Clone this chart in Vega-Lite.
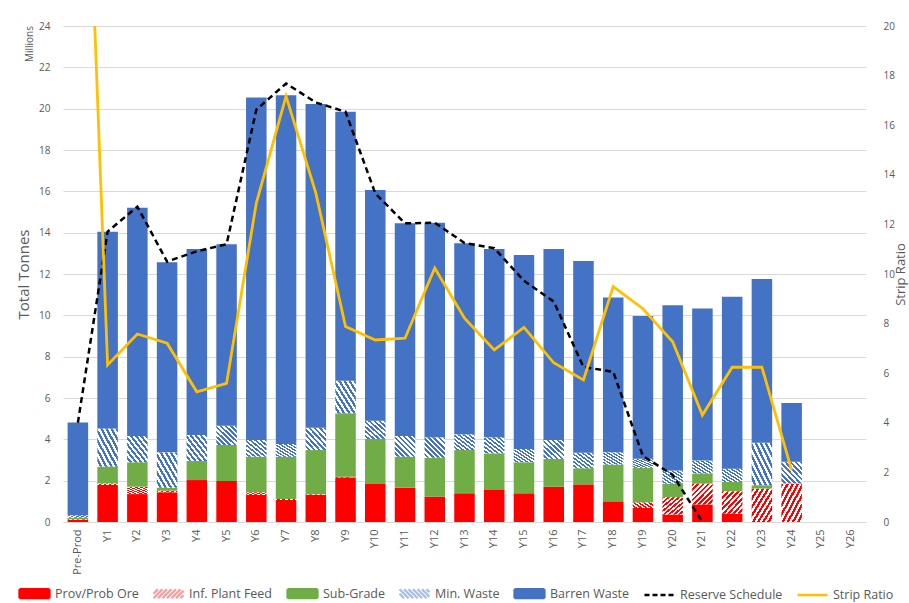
{
"$schema": "https://vega.github.io/schema/vega-lite/v6.json",
"autosize": {"type": "none"},
"width": 803, "height": 496,
"padding": {"left": 63, "top": 26, "right": 43, "bottom": 81},
"background": "white",
"config": {"font": "Open Sans", "view": {"stroke": null}},
"title": {"text": "Millions", "orient": "left", "anchor": "end", "frame": "group", "offset": -18, "fontSize": 10, "fontWeight": "normal", "color": "#595959"},
"datasets": {
"bars": [
{"year":"Pre-Prod","series":"Prov/Prob Ore","k":1,"mt":0.10},{"year":"Pre-Prod","series":"Inf. Plant Feed","k":2,"mt":0.03},{"year":"Pre-Prod","series":"Sub-Grade","k":3,"mt":0.08},{"year":"Pre-Prod","series":"Min. Waste","k":4,"mt":0.12},{"year":"Pre-Prod","series":"Barren Waste","k":5,"mt":4.49},
{"year":"Y1","series":"Prov/Prob Ore","k":1,"mt":1.79},{"year":"Y1","series":"Inf. Plant Feed","k":2,"mt":0.08},{"year":"Y1","series":"Sub-Grade","k":3,"mt":0.81},{"year":"Y1","series":"Min. Waste","k":4,"mt":1.85},{"year":"Y1","series":"Barren Waste","k":5,"mt":9.52},
{"year":"Y2","series":"Prov/Prob Ore","k":1,"mt":1.35},{"year":"Y2","series":"Inf. Plant Feed","k":2,"mt":0.36},{"year":"Y2","series":"Sub-Grade","k":3,"mt":1.18},{"year":"Y2","series":"Min. Waste","k":4,"mt":1.27},{"year":"Y2","series":"Barren Waste","k":5,"mt":11.05},
{"year":"Y3","series":"Prov/Prob Ore","k":1,"mt":1.44},{"year":"Y3","series":"Inf. Plant Feed","k":2,"mt":0.08},{"year":"Y3","series":"Sub-Grade","k":3,"mt":0.14},{"year":"Y3","series":"Min. Waste","k":4,"mt":1.71},{"year":"Y3","series":"Barren Waste","k":5,"mt":9.20},
{"year":"Y4","series":"Prov/Prob Ore","k":1,"mt":2.03},{"year":"Y4","series":"Sub-Grade","k":3,"mt":0.92},{"year":"Y4","series":"Min. Waste","k":4,"mt":1.26},{"year":"Y4","series":"Barren Waste","k":5,"mt":9.00},
{"year":"Y5","series":"Prov/Prob Ore","k":1,"mt":1.98},{"year":"Y5","series":"Sub-Grade","k":3,"mt":1.74},{"year":"Y5","series":"Min. Waste","k":4,"mt":0.94},{"year":"Y5","series":"Barren Waste","k":5,"mt":8.78},
{"year":"Y6","series":"Prov/Prob Ore","k":1,"mt":1.31},{"year":"Y6","series":"Inf. Plant Feed","k":2,"mt":0.13},{"year":"Y6","series":"Sub-Grade","k":3,"mt":1.72},{"year":"Y6","series":"Min. Waste","k":4,"mt":0.81},{"year":"Y6","series":"Barren Waste","k":5,"mt":16.57},
{"year":"Y7","series":"Prov/Prob Ore","k":1,"mt":1.06},{"year":"Y7","series":"Inf. Plant Feed","k":2,"mt":0.05},{"year":"Y7","series":"Sub-Grade","k":3,"mt":2.05},{"year":"Y7","series":"Min. Waste","k":4,"mt":0.61},{"year":"Y7","series":"Barren Waste","k":5,"mt":16.88},
{"year":"Y8","series":"Prov/Prob Ore","k":1,"mt":1.31},{"year":"Y8","series":"Inf. Plant Feed","k":2,"mt":0.03},{"year":"Y8","series":"Sub-Grade","k":3,"mt":2.14},{"year":"Y8","series":"Min. Waste","k":4,"mt":1.08},{"year":"Y8","series":"Barren Waste","k":5,"mt":15.66},
{"year":"Y9","series":"Prov/Prob Ore","k":1,"mt":2.16},{"year":"Y9","series":"Inf. Plant Feed","k":2,"mt":0.03},{"year":"Y9","series":"Sub-Grade","k":3,"mt":3.07},{"year":"Y9","series":"Min. Waste","k":4,"mt":1.58},{"year":"Y9","series":"Barren Waste","k":5,"mt":13.01},
{"year":"Y10","series":"Prov/Prob Ore","k":1,"mt":1.84},{"year":"Y10","series":"Sub-Grade","k":3,"mt":2.18},{"year":"Y10","series":"Min. Waste","k":4,"mt":0.88},{"year":"Y10","series":"Barren Waste","k":5,"mt":11.16},
{"year":"Y11","series":"Prov/Prob Ore","k":1,"mt":1.66},{"year":"Y11","series":"Sub-Grade","k":3,"mt":1.50},{"year":"Y11","series":"Min. Waste","k":4,"mt":1.00},{"year":"Y11","series":"Barren Waste","k":5,"mt":10.29},
{"year":"Y12","series":"Prov/Prob Ore","k":1,"mt":1.23},{"year":"Y12","series":"Sub-Grade","k":3,"mt":1.88},{"year":"Y12","series":"Min. Waste","k":4,"mt":0.99},{"year":"Y12","series":"Barren Waste","k":5,"mt":10.38},
{"year":"Y13","series":"Prov/Prob Ore","k":1,"mt":1.39},{"year":"Y13","series":"Sub-Grade","k":3,"mt":2.09},{"year":"Y13","series":"Min. Waste","k":4,"mt":0.76},{"year":"Y13","series":"Barren Waste","k":5,"mt":9.25},
{"year":"Y14","series":"Prov/Prob Ore","k":1,"mt":1.58},{"year":"Y14","series":"Sub-Grade","k":3,"mt":1.74},{"year":"Y14","series":"Min. Waste","k":4,"mt":0.78},{"year":"Y14","series":"Barren Waste","k":5,"mt":9.11},
{"year":"Y15","series":"Prov/Prob Ore","k":1,"mt":1.39},{"year":"Y15","series":"Sub-Grade","k":3,"mt":1.50},{"year":"Y15","series":"Min. Waste","k":4,"mt":0.64},{"year":"Y15","series":"Barren Waste","k":5,"mt":9.39},
{"year":"Y16","series":"Prov/Prob Ore","k":1,"mt":1.71},{"year":"Y16","series":"Sub-Grade","k":3,"mt":1.34},{"year":"Y16","series":"Min. Waste","k":4,"mt":0.92},{"year":"Y16","series":"Barren Waste","k":5,"mt":9.24},
{"year":"Y17","series":"Prov/Prob Ore","k":1,"mt":1.82},{"year":"Y17","series":"Sub-Grade","k":3,"mt":0.78},{"year":"Y17","series":"Min. Waste","k":4,"mt":0.75},{"year":"Y17","series":"Barren Waste","k":5,"mt":9.28},
{"year":"Y18","series":"Prov/Prob Ore","k":1,"mt":1.00},{"year":"Y18","series":"Sub-Grade","k":3,"mt":1.78},{"year":"Y18","series":"Min. Waste","k":4,"mt":0.59},{"year":"Y18","series":"Barren Waste","k":5,"mt":7.49},
{"year":"Y19","series":"Prov/Prob Ore","k":1,"mt":0.68},{"year":"Y19","series":"Inf. Plant Feed","k":2,"mt":0.27},{"year":"Y19","series":"Sub-Grade","k":3,"mt":1.67},{"year":"Y19","series":"Min. Waste","k":4,"mt":0.44},{"year":"Y19","series":"Barren Waste","k":5,"mt":6.91},
{"year":"Y20","series":"Prov/Prob Ore","k":1,"mt":0.36},{"year":"Y20","series":"Inf. Plant Feed","k":2,"mt":0.84},{"year":"Y20","series":"Sub-Grade","k":3,"mt":0.66},{"year":"Y20","series":"Min. Waste","k":4,"mt":0.63},{"year":"Y20","series":"Barren Waste","k":5,"mt":8.00},
{"year":"Y21","series":"Prov/Prob Ore","k":1,"mt":0.85},{"year":"Y21","series":"Inf. Plant Feed","k":2,"mt":1.01},{"year":"Y21","series":"Sub-Grade","k":3,"mt":0.49},{"year":"Y21","series":"Min. Waste","k":4,"mt":0.62},{"year":"Y21","series":"Barren Waste","k":5,"mt":7.36},
{"year":"Y22","series":"Prov/Prob Ore","k":1,"mt":0.40},{"year":"Y22","series":"Inf. Plant Feed","k":2,"mt":1.09},{"year":"Y22","series":"Sub-Grade","k":3,"mt":0.45},{"year":"Y22","series":"Min. Waste","k":4,"mt":0.64},{"year":"Y22","series":"Barren Waste","k":5,"mt":8.32},
{"year":"Y23","series":"Inf. Plant Feed","k":2,"mt":1.62},{"year":"Y23","series":"Sub-Grade","k":3,"mt":0.16},{"year":"Y23","series":"Min. Waste","k":4,"mt":2.06},{"year":"Y23","series":"Barren Waste","k":5,"mt":7.92},
{"year":"Y24","series":"Inf. Plant Feed","k":2,"mt":1.86},{"year":"Y24","series":"Min. Waste","k":4,"mt":1.05},{"year":"Y24","series":"Barren Waste","k":5,"mt":2.85}
],
"lines": [
{"year":"Pre-Prod","reserve":4.8,"strip":38},{"year":"Y1","reserve":14.05,"strip":6.33},{"year":"Y2","reserve":15.26,"strip":7.58},{"year":"Y3","reserve":12.6,"strip":7.21},{"year":"Y4","reserve":13.1,"strip":5.25},{"year":"Y5","reserve":13.44,"strip":5.59},{"year":"Y6","reserve":19.95,"strip":12.86},{"year":"Y7","reserve":21.22,"strip":17.17},{"year":"Y8","reserve":20.3,"strip":13.27},{"year":"Y9","reserve":19.85,"strip":7.88},{"year":"Y10","reserve":15.9,"strip":7.34},{"year":"Y11","reserve":14.45,"strip":7.41},{"year":"Y12","reserve":14.48,"strip":10.24},{"year":"Y13","reserve":13.5,"strip":8.22},{"year":"Y14","reserve":13.25,"strip":6.94},{"year":"Y15","reserve":11.67,"strip":7.85},{"year":"Y16","reserve":10.67,"strip":6.42},{"year":"Y17","reserve":7.5,"strip":5.73},{"year":"Y18","reserve":7.27,"strip":9.49},{"year":"Y19","reserve":3.19,"strip":8.6},{"year":"Y20","reserve":2.28,"strip":7.27},{"year":"Y21","reserve":0,"strip":4.31},{"year":"Y22","strip":6.24},{"year":"Y23","strip":6.24},{"year":"Y24","strip":2.09}
]
},
"layer": [
{
"data": {"name": "bars"},
"layer": [
{
"mark": {"type": "bar"},
"encoding": {
"x": {"field": "year", "type": "nominal", "sort": null,
"scale": {"domain": ["Pre-Prod","Y1","Y2","Y3","Y4","Y5","Y6","Y7","Y8","Y9","Y10","Y11","Y12","Y13","Y14","Y15","Y16","Y17","Y18","Y19","Y20","Y21","Y22","Y23","Y24","Y25","Y26"], "paddingInner": 0.31, "paddingOuter": 0.155},
"axis": {"title": null, "labelAngle": -90, "labelFontSize": 11, "labelColor": "#595959", "labelPadding": 7, "ticks": false, "domainColor": "#d9d9d9", "grid": false}},
"y": {"field": "mt", "type": "quantitative", "stack": "zero",
"scale": {"domain": [0, 24], "nice": false},
"axis": {"title": "Total Tonnes", "titleFontSize": 15, "titleFontWeight": "normal", "titleColor": "#595959", "titlePadding": 7, "values": [0,2,4,6,8,10,12,14,16,18,20,22,24], "labelFontSize": 10, "labelColor": "#595959", "labelPadding": 13, "domain": false, "ticks": false, "grid": true, "gridColor": "#d9d9d9"}},
"order": {"field": "k", "type": "quantitative"},
"color": {"field": "series", "type": "nominal",
"condition": [
{"test": "datum.series === 'Inf. Plant Feed'", "value": {"gradient": "linear", "x1": 0, "y1": 0, "x2": 1, "y2": 1, "stops": [{"offset":0,"color":"#ff0000"},{"offset":0.0625,"color":"#ff0000"},{"offset":0.0625,"color":"#ffffff"},{"offset":0.125,"color":"#ffffff"},{"offset":0.125,"color":"#ff0000"},{"offset":0.1875,"color":"#ff0000"},{"offset":0.1875,"color":"#ffffff"},{"offset":0.25,"color":"#ffffff"},{"offset":0.25,"color":"#ff0000"},{"offset":0.3125,"color":"#ff0000"},{"offset":0.3125,"color":"#ffffff"},{"offset":0.375,"color":"#ffffff"},{"offset":0.375,"color":"#ff0000"},{"offset":0.4375,"color":"#ff0000"},{"offset":0.4375,"color":"#ffffff"},{"offset":0.5,"color":"#ffffff"},{"offset":0.5,"color":"#ff0000"},{"offset":0.5625,"color":"#ff0000"},{"offset":0.5625,"color":"#ffffff"},{"offset":0.625,"color":"#ffffff"},{"offset":0.625,"color":"#ff0000"},{"offset":0.6875,"color":"#ff0000"},{"offset":0.6875,"color":"#ffffff"},{"offset":0.75,"color":"#ffffff"},{"offset":0.75,"color":"#ff0000"},{"offset":0.8125,"color":"#ff0000"},{"offset":0.8125,"color":"#ffffff"},{"offset":0.875,"color":"#ffffff"},{"offset":0.875,"color":"#ff0000"},{"offset":0.9375,"color":"#ff0000"},{"offset":0.9375,"color":"#ffffff"},{"offset":1,"color":"#ffffff"}]}},
{"test": "datum.series === 'Min. Waste'", "value": {"gradient": "linear", "x1": 1, "y1": 0, "x2": 0, "y2": 1, "stops": [{"offset":0,"color":"#4472c4"},{"offset":0.0625,"color":"#4472c4"},{"offset":0.0625,"color":"#ffffff"},{"offset":0.125,"color":"#ffffff"},{"offset":0.125,"color":"#4472c4"},{"offset":0.1875,"color":"#4472c4"},{"offset":0.1875,"color":"#ffffff"},{"offset":0.25,"color":"#ffffff"},{"offset":0.25,"color":"#4472c4"},{"offset":0.3125,"color":"#4472c4"},{"offset":0.3125,"color":"#ffffff"},{"offset":0.375,"color":"#ffffff"},{"offset":0.375,"color":"#4472c4"},{"offset":0.4375,"color":"#4472c4"},{"offset":0.4375,"color":"#ffffff"},{"offset":0.5,"color":"#ffffff"},{"offset":0.5,"color":"#4472c4"},{"offset":0.5625,"color":"#4472c4"},{"offset":0.5625,"color":"#ffffff"},{"offset":0.625,"color":"#ffffff"},{"offset":0.625,"color":"#4472c4"},{"offset":0.6875,"color":"#4472c4"},{"offset":0.6875,"color":"#ffffff"},{"offset":0.75,"color":"#ffffff"},{"offset":0.75,"color":"#4472c4"},{"offset":0.8125,"color":"#4472c4"},{"offset":0.8125,"color":"#ffffff"},{"offset":0.875,"color":"#ffffff"},{"offset":0.875,"color":"#4472c4"},{"offset":0.9375,"color":"#4472c4"},{"offset":0.9375,"color":"#ffffff"},{"offset":1,"color":"#ffffff"}]}}
],
"scale": {"domain": ["Prov/Prob Ore","Inf. Plant Feed","Sub-Grade","Min. Waste","Barren Waste","Reserve Schedule","Strip Ratio"], "range": ["#ff0000","#f4a0a0","#70ad47","#a9bfe6","#4472c4","#000000","#ffc000"]},
"legend": {"title": null, "orient": "none", "legendX": -45, "legendY": 551, "direction": "horizontal", "columns": 7, "padding": 0, "columnPadding": 9, "labelOffset": 4, "labelFontSize": 12.5, "labelColor": "#595959", "labelLimit": 200, "symbolSize": 900, "symbolType": "M-1,-0.3H1V0.3H-1Z",
"encode": {"symbols": {"update": {
"shape": [
{"test": "datum.value === 'Reserve Schedule' || datum.value === 'Strip Ratio'", "value": "M-1,0H1"},
{"test": "datum.value === 'Inf. Plant Feed'", "value": "M-1,0L-0.7,-0.3M-1,0.3L-0.4,-0.3M-0.7,0.3L-0.1,-0.3M-0.4,0.3L0.2,-0.3M-0.1,0.3L0.5,-0.3M0.2,0.3L0.8,-0.3M0.5,0.3L1,-0.2M0.8,0.3L1,0.1"},
{"test": "datum.value === 'Min. Waste'", "value": "M-1,0L-0.7,0.3M-1,-0.3L-0.4,0.3M-0.7,-0.3L-0.1,0.3M-0.4,-0.3L0.2,0.3M-0.1,-0.3L0.5,0.3M0.2,-0.3L0.8,0.3M0.5,-0.3L1,0.2M0.8,-0.3L1,-0.1"},
{"value": "M-1,-0.3H1V0.3H-1Z"}],
"fill": [
{"test": "datum.value === 'Reserve Schedule' || datum.value === 'Strip Ratio' || datum.value === 'Inf. Plant Feed' || datum.value === 'Min. Waste'", "value": "transparent"},
{"scale": "color", "field": "value"}],
"fillOpacity": {"value": 1},
"stroke": [
{"test": "datum.value === 'Inf. Plant Feed'", "value": "#ff0000"},
{"test": "datum.value === 'Min. Waste'", "value": "#4472c4"},
{"test": "datum.value === 'Reserve Schedule' || datum.value === 'Strip Ratio'", "scale": "color", "field": "value"},
{"value": "transparent"}],
"strokeWidth": {"value": 2.3},
"strokeDash": [{"test": "datum.value === 'Reserve Schedule'", "value": [5, 3]}, {"value": [1, 0]}],
"opacity": {"value": 1}
}}}}
}
}
},
{
"data": {"name": "lines"},
"transform": [{"filter": "isValid(datum.reserve)"}],
"mark": {"type": "line", "strokeDash": [6, 4], "strokeWidth": 2.5},
"encoding": {
"x": {"field": "year", "type": "nominal", "sort": null},
"y": {"field": "reserve", "type": "quantitative"},
"color": {"datum": "Reserve Schedule"}
}
}
]
},
{
"data": {"name": "lines"},
"mark": {"type": "line", "strokeWidth": 2.8, "clip": true},
"encoding": {
"x": {"field": "year", "type": "nominal", "sort": null},
"y": {"field": "strip", "type": "quantitative",
"scale": {"domain": [0, 20], "nice": false},
"axis": {"orient": "right", "title": "Strip Ratio", "titleAngle": -90, "titleBaseline": "top", "titleFontSize": 13, "titleFontWeight": "normal", "titleColor": "#595959", "titlePadding": 0, "values": [0,2,4,6,8,10,12,14,16,18,20], "labelFontSize": 10, "labelColor": "#595959", "labelPadding": 17, "domain": false, "ticks": false, "grid": false}},
"color": {"datum": "Strip Ratio"}
}
}
],
"resolve": {"scale": {"y": "independent"}}
}
